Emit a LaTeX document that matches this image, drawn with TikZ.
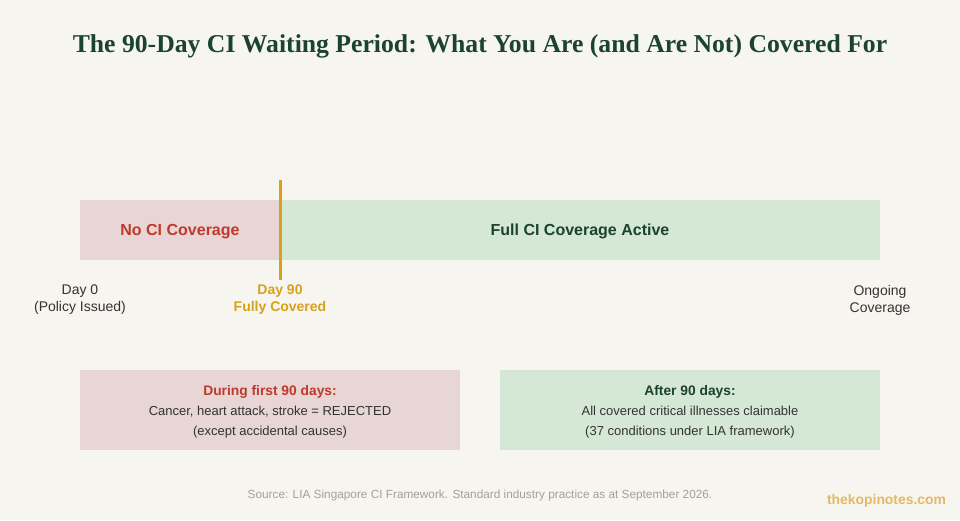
\documentclass[tikz,border=0pt]{standalone}
\usepackage{fontspec}
\setmainfont{Liberation Sans}
\newfontfamily\titleserif{Liberation Serif}
\definecolor{page-bg}{RGB}{247,245,240}
\definecolor{nocov}{RGB}{232,213,213}
\definecolor{fullcov}{RGB}{213,232,214}
\definecolor{warn-red}{RGB}{192,57,43}
\definecolor{deep-green}{RGB}{27,67,45}
\definecolor{gold}{RGB}{214,162,28}
\definecolor{body}{RGB}{51,51,51}
\definecolor{foot}{RGB}{160,160,160}
\definecolor{brand}{RGB}{226,186,100}
\usetikzlibrary{
  positioning     % labels placed against the bars
}
\tikzset{
  every node/.style = {
    inner sep = 0pt,
    outer sep = 0pt,
    text depth = 0pt
  },
  bar/.style = {rectangle, minimum height=60pt, anchor=north west,
    font=\fontsize{16}{19}\selectfont\bfseries},
  ticklabel/.style = {align=center, text=body,
    font=\fontsize{14}{17}\selectfont},
  infobox/.style = {rectangle, minimum width=380pt, minimum height=80pt,
    align=center, text=body, font=\fontsize{13}{20}\selectfont},
  marker/.style = {draw=gold, line width=3pt},
}

\begin{document}
\begin{tikzpicture}[x=1pt, y=-1pt]
\useasboundingbox[fill=page-bg] (0,0) rectangle (960,520);

\node[font=\titleserif\fontsize{25.7}{29}\selectfont\bfseries, text=deep-green] (title) at (480,44)
  {The 90-Day CI Waiting Period: What You Are (and Are Not) Covered For};

% timeline
\node[bar, fill=nocov, minimum width=200pt, text=warn-red] (nocover) at (80,200) {No CI Coverage};
\node[bar, fill=fullcov, minimum width=600pt, text=deep-green] (fullcover) at (280,200) {Full CI Coverage Active};
\coordinate (d90top) at (280,180);
\coordinate (d90bot) at (280,280);
\draw[marker] (d90top) -- (d90bot);

\node[ticklabel] (day0) at (80,298.5) {Day 0\\(Policy Issued)};
\node[ticklabel, text=gold, font=\fontsize{14}{17}\selectfont\bfseries] (day90) at (280,298.5) {Day 90\\Fully Covered};
\node[ticklabel] (ongoing) at (880,298.5) {Ongoing\\Coverage};

% detail boxes
\node[infobox, fill=nocov] (during) at (270,410)
  {{\fontsize{13.8}{20}\selectfont\bfseries\color{warn-red}During first 90 days:}\\
   Cancer, heart attack, stroke = REJECTED\\
   (except accidental causes)};
\node[infobox, fill=fullcov] (after) at (690,410)
  {{\fontsize{13.8}{20}\selectfont\bfseries\color{deep-green}After 90 days:}\\
   All covered critical illnesses claimable\\
   (37 conditions under LIA framework)};

\node[text=foot, font=\fontsize{11.8}{13}\selectfont] (source) at (480,494)
  {Source: LIA Singapore CI Framework. Standard industry practice as at September 2026.};
\node[text=brand, anchor=east, font=\fontsize{13.9}{15}\selectfont\bfseries] (brandmark) at (946,499) {thekopinotes.com};
\end{tikzpicture}
\end{document}
